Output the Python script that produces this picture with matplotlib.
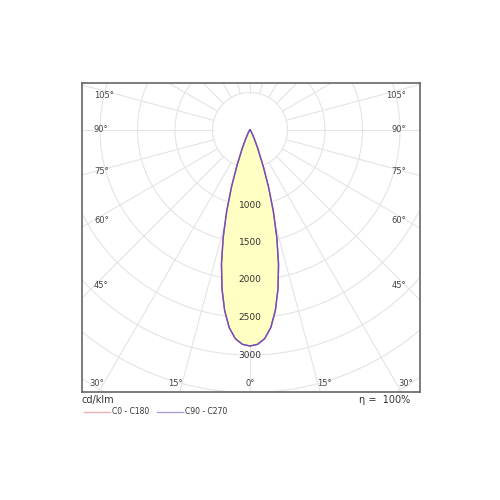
import numpy as np
import matplotlib
matplotlib.use("Agg")
import matplotlib.pyplot as plt

gamma_deg = [0, 2, 4, 6, 8, 10, 12, 14, 16, 18, 20, 23, 26, 30, 40, 60, 90]
intensity_c0 = [2880, 2860, 2790, 2650, 2430, 2150, 1830, 1480, 1130, 800, 520, 260, 130, 60, 20, 5, 0]
intensity_c90 = [2880, 2860, 2790, 2650, 2430, 2150, 1830, 1480, 1130, 800, 520, 260, 130, 60, 20, 5, 0]
ring_values = [1000, 1500, 2000, 2500, 3000]
side_angles = [105, 90, 75, 60, 45]
bottom_angles = [30, 15, 0, 15, 30]

fig = plt.figure(figsize=(5, 5), dpi=100)
s = 0.075  # px per cd/klm
cx, cy = 250, 130
L, R, T, B = 82, 420, 83, 392
ax = fig.add_axes([L/500, 1-B/500, (R-L)/500, (B-T)/500])
x0, x1 = -(cx-L)/s, (R-cx)/s
y0, y1 = -(B-cy)/s, (cy-T)/s
ax.set_xlim(x0, x1); ax.set_ylim(y0, y1)
ax.set_xticks([]); ax.set_yticks([])
for sp in ax.spines.values():
    sp.set_color('#666666'); sp.set_linewidth(1.2)

gc = '#e4e4e4'
t = np.linspace(0, 2*np.pi, 400)
for r in range(500, 6000, 500):
    ax.plot(r*np.cos(t), r*np.sin(t), color=gc, lw=0.8, zorder=1)
for a in range(0, 360, 15):
    th = np.radians(a)
    ax.plot([500*np.sin(th), 7000*np.sin(th)], [-500*np.cos(th), -7000*np.cos(th)], color=gc, lw=0.8, zorder=1)

g = np.radians(np.array(gamma_deg))
for I, col, z in [(intensity_c0, '#e06060', 3), (intensity_c90, '#6a50c8', 4)]:
    I = np.array(I)
    xs = np.concatenate([-(I*np.sin(g))[::-1], (I*np.sin(g))[1:]])
    ys = np.concatenate([-(I*np.cos(g))[::-1], -(I*np.cos(g))[1:]])
    if z == 3:
        ax.fill(xs, ys, color='#ffffc4', zorder=2)
    ax.plot(xs, ys, color=col, lw=1, zorder=z)

for v in ring_values:
    ax.text(0, -v, str(v), ha='center', va='center', fontsize=6.5, color='#333333', zorder=5)

W = cx - L - 12
for a in side_angles:
    th = np.radians(a)
    yp = -(W/np.tan(th))/s if a != 90 else 0
    if a == 105:
        yp = (cy-95)*1/s
    for sx in (-1, 1):
        ax.text(sx*(W)/s, yp, f"{a}°", ha='right' if sx > 0 else 'left', va='center',
                fontsize=6, color='#444444', zorder=5)

by = -(B-cy-9)/s
for a, xp in zip(bottom_angles, [-2040, -990, 0, 990, 2070]):
    ax.text(xp, by, f"{a}°", ha='center', va='center', fontsize=6, color='#444444', zorder=5)

fig.text(L/500, 1-400/500, "cd/klm", fontsize=7, color='#333333', va='center')
fig.text(410/500, 1-400/500, "η =  100%", fontsize=7, color='#333333', va='center', ha='right')
fig.add_artist(plt.Line2D([84/500, 110/500], [1-412/500]*2, color='#f0b0b0', lw=1))
fig.text(112/500, 1-412/500, "C0 - C180", fontsize=5.5, color='#333333', va='center')
fig.add_artist(plt.Line2D([157/500, 183/500], [1-412/500]*2, color='#a8a0e0', lw=1))
fig.text(185/500, 1-412/500, "C90 - C270", fontsize=5.5, color='#333333', va='center')
fig.savefig("out.png", dpi=100)
